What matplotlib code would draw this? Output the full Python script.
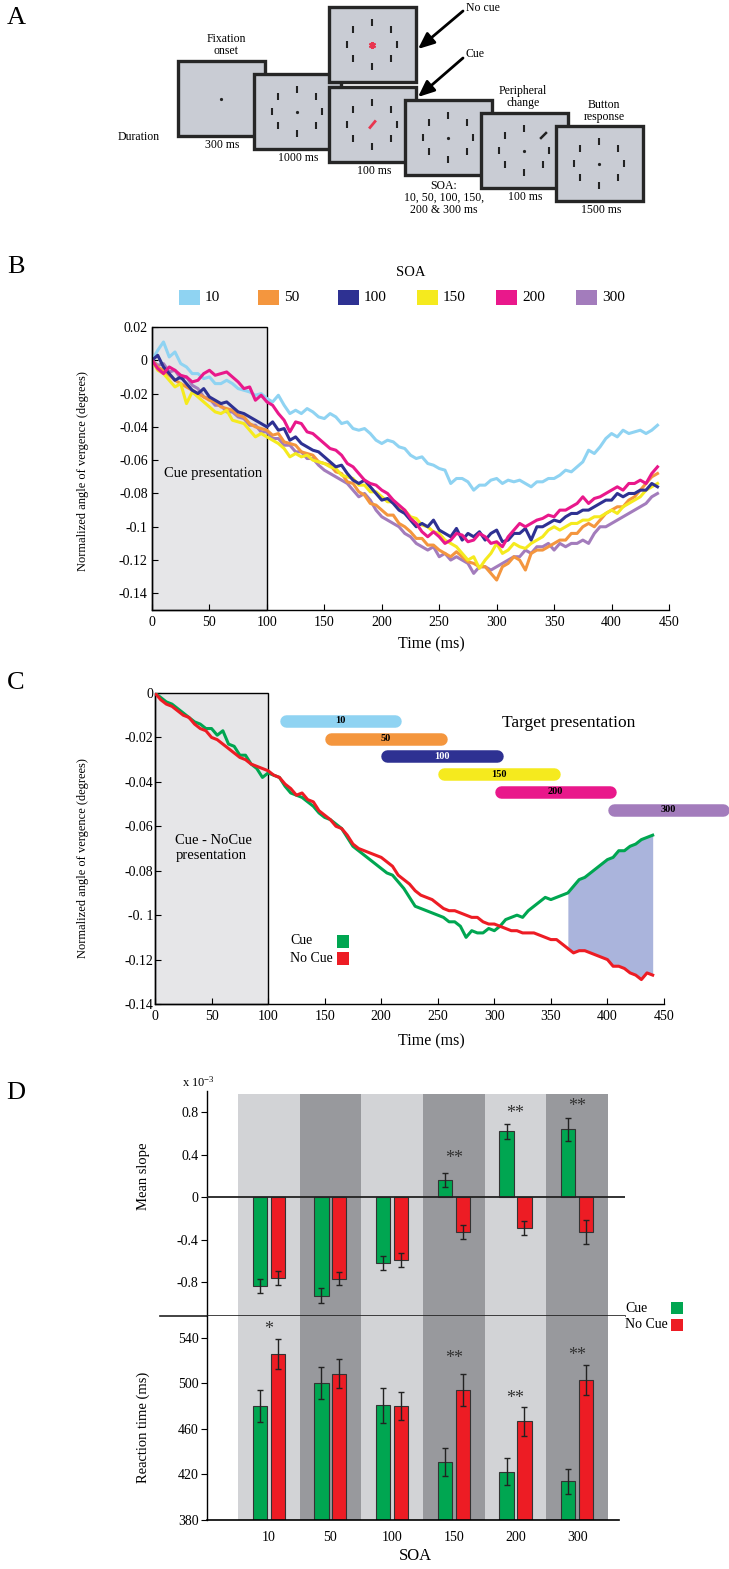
import numpy as np
import matplotlib.pyplot as plt
from matplotlib.patches import Rectangle

plt.rcParams['font.family'] = ['Liberation Serif', 'DejaVu Serif']
plt.rcParams['mathtext.fontset'] = 'custom'
plt.rcParams['mathtext.rm'] = 'Liberation Serif'
plt.rcParams['mathtext.it'] = 'Liberation Serif'

# === Data ===
soa_labels = ['10', '50', '100', '150', '200', '300']
soa_colors = ['#8fd3f2', '#f4963e', '#2e3192', '#f5ea1e', '#e9188b', '#a37cbc']
cue_color = '#00a651'
nocue_color = '#ed1c24'

# panel B: normalized vergence (x 1e-3 deg), one sample every 5 ms from 0 to 440 ms
b_soa10 = [0, 6, 11, 2, 5, -2, -4, -8, -8, -11,
           -10, -14, -14, -12, -14, -17, -18, -19, -21, -20,
           -23, -25, -21, -27, -32, -30, -32, -29, -31, -34,
           -35, -32, -34, -38, -37, -41, -42, -41, -44, -48,
           -50, -48, -49, -52, -53, -57, -59, -58, -62, -63,
           -65, -66, -74, -71, -71, -73, -78, -75, -75, -72,
           -71, -74, -72, -73, -72, -74, -76, -73, -73, -71,
           -71, -69, -66, -67, -64, -61, -54, -56, -52, -47,
           -44, -46, -42, -44, -43, -42, -44, -42, -39]
b_soa50 = [0, -4, -6, -9, -12, -14, -16, -18, -20, -22,
           -24, -25, -28, -29, -30, -33, -34, -38, -40, -41,
           -42, -45, -44, -49, -50, -51, -55, -56, -57, -61,
           -62, -63, -67, -68, -73, -74, -79, -81, -86, -87,
           -90, -93, -93, -98, -100, -103, -107, -107, -111, -111,
           -114, -116, -118, -115, -118, -121, -122, -124, -124, -128,
           -132, -124, -122, -118, -120, -126, -116, -114, -114, -112,
           -110, -108, -108, -104, -104, -100, -98, -100, -96, -92,
           -90, -88, -88, -84, -82, -78, -74, -70, -68]
b_soa100 = [0, 3, -4, -8, -12, -10, -14, -18, -20, -17,
            -22, -24, -26, -25, -28, -31, -32, -34, -36, -38,
            -40, -37, -42, -41, -48, -46, -50, -52, -54, -55,
            -58, -61, -64, -63, -68, -72, -74, -72, -76, -80,
            -84, -83, -86, -90, -92, -96, -100, -98, -100, -96,
            -102, -104, -106, -101, -108, -104, -106, -103, -108, -104,
            -102, -109, -108, -104, -104, -101, -108, -100, -100, -98,
            -96, -97, -94, -92, -92, -90, -90, -88, -86, -84,
            -84, -80, -82, -80, -80, -78, -78, -74, -76]
b_soa150 = [0, -6, -8, -12, -16, -14, -26, -19, -22, -25,
            -28, -31, -32, -30, -36, -37, -38, -42, -46, -44,
            -46, -48, -50, -53, -58, -56, -58, -57, -60, -61,
            -62, -64, -65, -69, -70, -71, -75, -75, -79, -79,
            -82, -85, -85, -89, -90, -94, -95, -99, -100, -103,
            -104, -108, -110, -112, -116, -120, -118, -125, -120, -116,
            -110, -116, -114, -110, -112, -113, -110, -108, -106, -102,
            -100, -102, -100, -98, -98, -96, -96, -94, -94, -92,
            -90, -92, -88, -86, -84, -82, -78, -76, -74]
b_soa200 = [0, -5, -8, -4, -6, -9, -10, -13, -12, -8,
            -6, -9, -8, -7, -10, -13, -17, -16, -24, -21,
            -25, -27, -32, -36, -43, -37, -38, -43, -44, -47,
            -50, -53, -54, -57, -62, -64, -68, -72, -74, -75,
            -78, -80, -84, -87, -90, -95, -98, -103, -106, -103,
            -106, -110, -108, -104, -105, -109, -108, -104, -106, -110,
            -109, -112, -106, -102, -98, -100, -98, -96, -95, -93,
            -94, -90, -90, -88, -86, -82, -86, -83, -82, -80,
            -78, -76, -78, -74, -74, -72, -74, -68, -64]
b_soa300 = [0, -3, -2, -7, -6, -11, -10, -15, -17, -22,
            -23, -27, -27, -31, -31, -34, -35, -39, -39, -43,
            -43, -47, -47, -51, -51, -55, -55, -59, -59, -63,
            -66, -68, -70, -72, -74, -78, -82, -80, -84, -90,
            -94, -96, -98, -100, -104, -106, -110, -112, -114, -112,
            -118, -116, -120, -118, -120, -122, -128, -124, -124, -126,
            -124, -122, -120, -118, -118, -114, -116, -112, -112, -110,
            -114, -110, -112, -110, -110, -108, -110, -104, -100, -100,
            -98, -96, -94, -92, -90, -88, -86, -82, -80]

# panel C: cue vs no cue (x 1e-3 deg), every 5 ms
c_cue = [0, -2, -4, -5, -7, -9, -11, -13, -14, -16,
         -16, -19, -17, -23, -24, -28, -28, -32, -34, -38,
         -36, -37, -38, -42, -45, -46, -47, -49, -51, -54,
         -56, -57, -59, -61, -65, -69, -71, -73, -75, -77,
         -79, -81, -82, -85, -88, -92, -96, -97, -98, -99,
         -100, -101, -103, -103, -105, -110, -107, -108, -108, -106,
         -107, -105, -102, -101, -100, -101, -98, -96, -94, -92,
         -93, -92, -91, -90, -87, -84, -83, -81, -79, -77,
         -75, -74, -71, -71, -69, -68, -66, -65, -64]
c_nocue = [0, -3, -5, -6, -8, -10, -11, -14, -16, -17,
           -20, -21, -23, -25, -27, -29, -30, -32, -33, -34,
           -35, -37, -38, -41, -43, -46, -45, -48, -49, -53,
           -55, -57, -60, -61, -64, -68, -70, -71, -72, -73,
           -74, -76, -78, -82, -84, -86, -89, -91, -92, -93,
           -95, -97, -98, -98, -99, -100, -101, -101, -103, -104,
           -104, -105, -106, -107, -107, -108, -108, -108, -109, -110,
           -111, -111, -113, -115, -117, -116, -116, -117, -118, -119,
           -120, -123, -123, -124, -126, -127, -129, -126, -127]
target_on = [110, 150, 200, 250, 300, 400]
target_dur = 108
target_row = [-0.0125, -0.0205, -0.0285, -0.0365, -0.0445, -0.0525]
shade_from = 365

# panel D
slope_cue = [-0.84, -0.93, -0.62, 0.16, 0.62, 0.64]
slope_cue_err = [0.065, 0.07, 0.065, 0.065, 0.07, 0.11]
slope_nocue = [-0.76, -0.77, -0.59, -0.33, -0.29, -0.33]
slope_nocue_err = [0.065, 0.06, 0.065, 0.065, 0.065, 0.11]
slope_stars = ['', '', '', '**', '**', '**']
slope_star_y = [0, 0, 0, 0.41, 0.84, 0.90]
rt_cue = [480, 500, 480.5, 431, 422.5, 414]
rt_cue_err = [14, 14, 15.5, 12, 12, 11]
rt_nocue = [525.5, 508.5, 480, 494, 466.5, 503]
rt_nocue_err = [13, 13, 12, 14, 12.5, 13]
rt_stars = ['*', '', '', '**', '**', '**']
rt_star_y = [552, 0, 0, 526, 491, 528.5]

# === Figure ===
W, H = 729, 1569
fig = plt.figure(figsize=(W / 100, H / 100), dpi=100)


def px_box(l, t, r, b):
    return [l / W, 1 - b / H, (r - l) / W, (b - t) / H]


def style_time_axis(ax):
    for s in ('top', 'right'):
        ax.spines[s].set_visible(False)
    for s in ('left', 'bottom'):
        ax.spines[s].set_linewidth(1.0)
    ax.set_xlim(0, 450)
    ax.set_xticks(range(0, 451, 50))
    ax.tick_params(axis='x', direction='in', length=4, width=0.8, labelsize=10, pad=4)
    ax.tick_params(axis='y', direction='in', length=4, width=0.8, labelsize=10, pad=3)
    ax.set_xlabel('Time (ms)', fontsize=11.5)


# === Panel B ===
t_b = np.arange(0, 445, 5)
axB = fig.add_axes(px_box(152, 327, 669, 610))
axB.add_patch(Rectangle((0, -0.15), 100, 0.17, fc='#e6e6e8', ec='k', lw=1, zorder=0, clip_on=False))
b_series = [b_soa10, b_soa50, b_soa100, b_soa150, b_soa200, b_soa300]
for k in [0, 5, 1, 3, 2, 4]:
    axB.plot(t_b, np.array(b_series[k]) * 1e-3, color=soa_colors[k], lw=2.2, zorder=2)
axB.set_ylim(-0.15, 0.02)
style_time_axis(axB)
b_yt = [0.02, 0, -0.02, -0.04, -0.06, -0.08, -0.1, -0.12, -0.14]
axB.set_yticks(b_yt)
axB.set_yticklabels(['0.02', '0', '-0.02', '-0.04', '-0.06', '-0.08', '-0.1', '-0.12', '-0.14'])
axB.set_ylabel('Normalized angle of vergence (degrees)', fontsize=9)
axB.yaxis.set_label_coords(-0.122, 0.49)
axB.xaxis.set_label_coords(0.54, -0.095)
axB.text(53, -0.0678, 'Cue presentation', fontsize=10.5, ha='center', va='center')

# === Panel C ===
axC = fig.add_axes(px_box(155, 693, 664, 1004))
axC.add_patch(Rectangle((0, -0.14), 100, 0.14, fc='#e6e6e8', ec='k', lw=1, zorder=0, clip_on=False))
cue_v = np.array(c_cue) * 1e-3
nocue_v = np.array(c_nocue) * 1e-3
sel = t_b >= shade_from
axC.fill_between(t_b[sel], cue_v[sel], nocue_v[sel], color='#aab4dc', lw=0, zorder=1)
axC.plot(t_b, cue_v, color=cue_color, lw=2.2, zorder=2)
axC.plot(t_b, nocue_v, color=nocue_color, lw=2.2, zorder=3)
for k in range(6):
    axC.plot([target_on[k] + 5.5, target_on[k] + target_dur - 5.5], [target_row[k]] * 2,
             color=soa_colors[k], lw=9, solid_capstyle='round', clip_on=False, zorder=4)
    axC.text(target_on[k] + target_dur / 2, target_row[k], soa_labels[k], fontsize=7.5,
             fontweight='bold', ha='center', va='center',
             color='white' if k == 2 else 'black', zorder=5, clip_on=False)
axC.text(366, -0.0135, 'Target presentation', fontsize=12.5, ha='center', va='center')
axC.text(18, -0.0697, 'Cue - NoCue\npresentation', fontsize=10.5, ha='left', va='center', linespacing=1.15)
axC.set_ylim(-0.14, 0)
style_time_axis(axC)
c_yt = [0, -0.02, -0.04, -0.06, -0.08, -0.1, -0.12, -0.14]
axC.set_yticks(c_yt)
axC.set_yticklabels(['0', '-0.02', '-0.04', '-0.06', '-0.08', '-0. 1', '-0.12', '-0.14'])
axC.tick_params(axis='y', pad=1)
axC.set_ylabel('Normalized angle of vergence (degrees)', fontsize=9)
axC.yaxis.set_label_coords(-0.13, 0.47)
axC.xaxis.set_label_coords(0.542, -0.095)

# === Panel D ===
soa_x = np.arange(len(soa_labels))
xl = (-1.0, 5.77)
axT = fig.add_axes(px_box(207, 1091, 624.7, 1316))
axR = fig.add_axes(px_box(207, 1316, 624.7, 1520))
col_shade = ['#d2d3d6', '#98999d']
for ax, ymax in ((axT, 0.986), (axR, 1.0)):
    for i in soa_x:
        ax.axvspan(i - 0.5, i + 0.5, ymin=0, ymax=ymax, color=col_shade[i % 2], lw=0, zorder=0)
    ax.set_xlim(*xl)
    for s in ('top', 'right'):
        ax.spines[s].set_visible(False)
    ax.spines['left'].set_linewidth(1.0)
    ax.tick_params(axis='y', direction='out', length=4, width=0.8, labelsize=10, pad=2)

bar_kw = dict(width=0.23, edgecolor='#333333', lw=0.8, capsize=2.5, zorder=2,
              error_kw=dict(elinewidth=1, ecolor='#222222', capthick=1))
axT.bar(soa_x - 0.145, slope_cue, yerr=slope_cue_err, color=cue_color, **bar_kw)
axT.bar(soa_x + 0.145, slope_nocue, yerr=slope_nocue_err, color=nocue_color, **bar_kw)
axT.axhline(0, color='#222222', lw=1.3, zorder=3)
axT.axhline(-1.12, xmin=(160 - 207) / 417.7, xmax=1, color='#222222', lw=1.2, clip_on=False, zorder=3)
axT.set_ylim(-1.12, 1.0)
axT.spines['bottom'].set_visible(False)
axT.set_xticks([])
axT.set_yticks([0.8, 0.4, 0, -0.4, -0.8])
axT.set_yticklabels(['0.8', '0.4', '0', '-0.4', '-0.8'])
axT.set_ylabel('Mean slope', fontsize=10.5)
axT.yaxis.set_label_coords(-0.136, 0.62)
for i, s in enumerate(slope_stars):
    if s:
        axT.annotate(s, (i, slope_star_y[i]), xytext=(0, -7), textcoords='offset points',
                     ha='center', va='baseline', fontsize=13, color='#333333')

rt_base = 380
axR.bar(soa_x - 0.145, np.array(rt_cue) - rt_base, bottom=rt_base, yerr=rt_cue_err, color=cue_color, **bar_kw)
axR.bar(soa_x + 0.145, np.array(rt_nocue) - rt_base, bottom=rt_base, yerr=rt_nocue_err, color=nocue_color, **bar_kw)
axR.set_ylim(rt_base, 559)
axR.spines['bottom'].set_linewidth(1.2)
axR.spines['bottom'].set_bounds(-1.0, 5.67)
axR.set_yticks([540, 500, 460, 420, 380])
axR.set_xticks(soa_x)
axR.set_xticklabels(soa_labels)
axR.tick_params(axis='x', length=0, labelsize=10, pad=8)
axR.set_ylabel('Reaction time (ms)', fontsize=10.5)
axR.yaxis.set_label_coords(-0.136, 0.456)
axR.set_xlabel('SOA', fontsize=12)
axR.xaxis.set_label_coords(0.5, -0.135)
for i, s in enumerate(rt_stars):
    if s:
        axR.annotate(s, (i, rt_star_y[i]), xytext=(0, -7), textcoords='offset points',
                     ha='center', va='baseline', fontsize=13, color='#333333')

# === Overlay: panel A schematic, letters, legends ===
ov = fig.add_axes([0, 0, 1, 1])
ov.set_xlim(0, W)
ov.set_ylim(H, 0)
ov.axis('off')
ov.set_zorder(10)

for letter, (lx, ly) in zip('ABCD', [(16, 18), (16, 267), (16, 683), (16, 1093)]):
    ov.text(lx, ly, letter, fontsize=19, ha='center', va='center')

scr_w, scr_h = 87, 75
screens = [(178, 61, 'dot'), (254, 74, 'ring'), (329, 7, 'nocue'), (329, 87, 'cue'),
           (405, 100, 'ring'), (481, 113, 'change'), (556, 126, 'ring')]
ring = [(0, -22), (-19, -15), (19, -15), (-25, 0), (25, 0), (-19, 14), (19, 14), (0, 22)]
for i, (l, t, kind) in enumerate(screens):
    z = 2 + i
    ov.add_patch(Rectangle((l, t), scr_w, scr_h, fc='#c9ccd4', ec='#262626', lw=2.4, zorder=z))
    cx, cy = l + scr_w / 2, t + scr_h / 2
    if kind != 'dot':
        for k, (dx, dy) in enumerate(ring):
            if kind == 'change' and k == 2:
                ov.plot([cx + dx - 2.5, cx + dx + 2.5], [cy + dy + 2.5, cy + dy - 2.5],
                        color='#222222', lw=1.8, zorder=z + 0.5)
            else:
                ov.plot([cx + dx, cx + dx], [cy + dy - 3.3, cy + dy + 3.3],
                        color='#222222', lw=1.5, solid_capstyle='butt', zorder=z + 0.5)
    if kind == 'nocue':
        ov.plot(cx, cy, marker=(6, 2, 0), ms=5, mew=1.5, color='#e8364f', zorder=z + 0.5)
    elif kind == 'cue':
        ov.plot([cx - 2.5, cx + 2.5], [cy + 3, cy - 3], color='#e8364f', lw=2, zorder=z + 0.5)
    else:
        ov.plot(cx, cy, marker='o', ms=1.3, color='#222222', zorder=z + 0.5)

a_texts = [('Fixation\nonset', 226, 45), ('Duration', 139, 137), ('300 ms', 222, 145),
           ('1000 ms', 298, 158), ('100 ms', 374, 171), ('SOA:\n10, 50, 100, 150,\n200 & 300 ms', 444, 198),
           ('100 ms', 525, 197), ('1500 ms', 601, 210), ('Peripheral\nchange', 523, 97),
           ('Button\nresponse', 604, 111)]
for txt, x, y in a_texts:
    ov.text(x, y, txt, fontsize=8.5, ha='center', va='center', linespacing=1.05)
ov.text(466, 8, 'No cue', fontsize=8.5, ha='left', va='center')
ov.text(466, 54, 'Cue', fontsize=8.5, ha='left', va='center')
arrow_kw = dict(arrowstyle='-|>,head_width=0.3,head_length=0.7', lw=2, color='k',
                shrinkA=0, shrinkB=0, mutation_scale=14)
ov.annotate('', xy=(418, 49), xytext=(463, 11), arrowprops=arrow_kw)
ov.annotate('', xy=(418, 97), xytext=(463, 58), arrowprops=arrow_kw)

# legend for B
ov.text(411, 272, 'SOA', fontsize=10.5, ha='center', va='center')
leg_x = [179, 258, 338, 417, 496, 576]
for k, x in enumerate(leg_x):
    ov.add_patch(Rectangle((x, 290), 21, 15, fc=soa_colors[k], ec='none'))
    ov.text(x + 26, 297.5, soa_labels[k], fontsize=11, ha='left', va='center')

# legend for C
for lab, col, y in (('Cue', cue_color, 941), ('No Cue', nocue_color, 958)):
    ov.text(290, y, lab, fontsize=10, ha='left', va='center')
    ov.add_patch(Rectangle((337, y - 6.5), 12, 13, fc=col, ec='none'))

# legend for D
for lab, col, y in (('Cue', cue_color, 1308), ('No Cue', nocue_color, 1325)):
    ov.text(625, y, lab, fontsize=10, ha='left', va='center')
    ov.add_patch(Rectangle((671, y - 6), 12, 12, fc=col, ec='none'))
ov.text(182, 1082, r'x 10$^{-3}$', fontsize=9, ha='left', va='center')

fig.savefig('out.png', dpi=100)
